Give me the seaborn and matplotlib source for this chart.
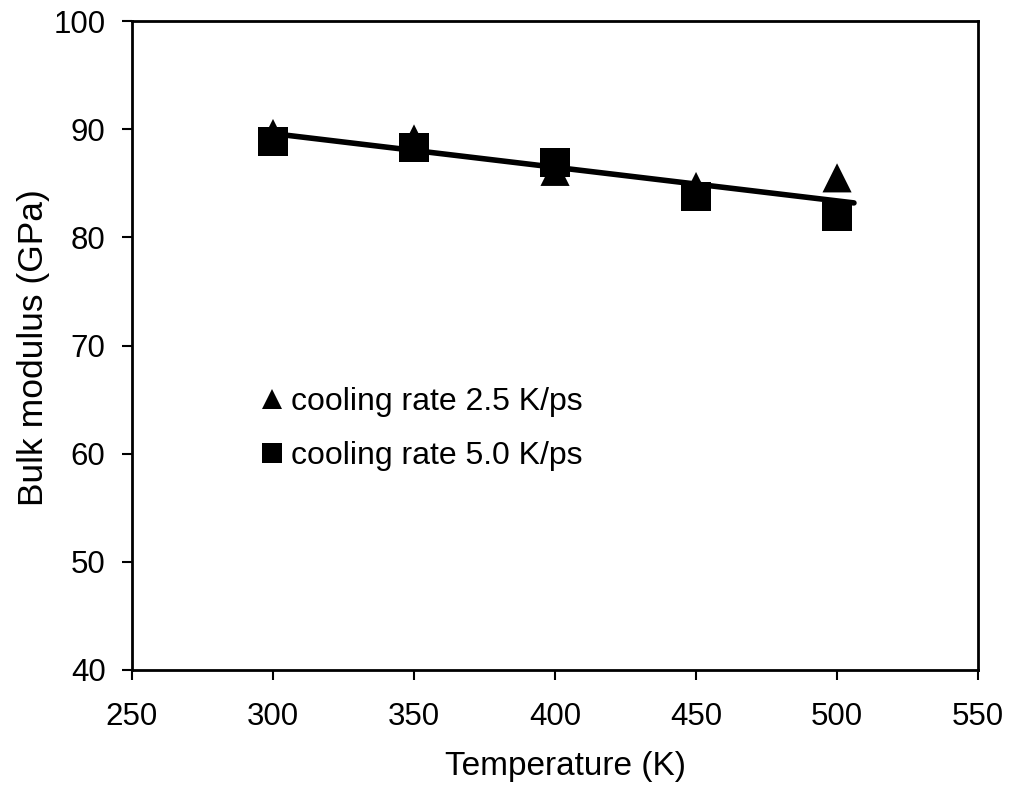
import numpy as np
import pandas as pd
import matplotlib
matplotlib.use("Agg")
import matplotlib.pyplot as plt
import seaborn as sns

temperature = [300, 350, 400, 450, 500]
bulk_25 = [89.6, 89.1, 86.1, 84.7, 85.5]
bulk_50 = [88.9, 88.3, 86.9, 83.8, 81.9]
labels = ["cooling rate 2.5 K/ps", "cooling rate 5.0 K/ps"]
x_ticks = [250, 300, 350, 400, 450, 500, 550]
y_ticks = [40, 50, 60, 70, 80, 90, 100]

sns.set_theme(style="white")
plt.rcParams['font.family'] = ['Liberation Sans', 'DejaVu Sans']
plt.rcParams['text.color'] = 'black'
plt.rcParams['axes.labelcolor'] = 'black'
plt.rcParams['xtick.color'] = 'black'
plt.rcParams['ytick.color'] = 'black'

df = pd.DataFrame({
    "T": temperature * 2,
    "B": bulk_25 + bulk_50,
    "series": [labels[0]] * 5 + [labels[1]] * 5,
})

fig = plt.figure(figsize=(10.13, 7.9), dpi=100)
ax = fig.add_axes([0.1303, 0.1519, 0.8352, 0.8215])

sns.scatterplot(data=df, x="T", y="B", hue="series", style="series",
                markers={labels[0]: "^", labels[1]: "s"},
                palette={labels[0]: "black", labels[1]: "black"},
                s=440, linewidth=0, ax=ax, zorder=3)

# linear trend line through all points
coef = np.polyfit(df["T"], df["B"], 1)
xs = np.array([min(temperature) - 3, max(temperature) + 6])
sns.lineplot(x=xs, y=np.polyval(coef, xs), color="black", linewidth=4.0,
             ax=ax, zorder=4)

ax.set_xlim(250, 550)
ax.set_ylim(40, 100)
ax.set_xticks(x_ticks)
ax.set_yticks(y_ticks)
ax.tick_params(axis="both", which="major", labelsize=22.5, direction="out",
               length=7, width=1.5, color="black", labelcolor="black",
               left=True, bottom=True)
ax.tick_params(axis="y", pad=12)
ax.tick_params(axis="x", pad=16)
ax.set_xlabel("Temperature (K)", fontsize=24, color="black")
ax.set_ylabel("Bulk modulus (GPa)", fontsize=25.5, color="black")
ax.xaxis.set_label_coords(0.5124, -0.1248)
ax.yaxis.set_label_coords(-0.097, 0.497)
for sp in ax.spines.values():
    sp.set_linewidth(2.0)
    sp.set_color("black")

leg = ax.legend(loc="upper left", bbox_to_anchor=(0.131, 0.456), frameon=False,
                fontsize=23, handletextpad=0.1, handlelength=1.0,
                labelspacing=0.75, markerscale=0.72, borderaxespad=0)
for t in leg.get_texts():
    t.set_color("black")

fig.savefig("out.png", dpi=100)
